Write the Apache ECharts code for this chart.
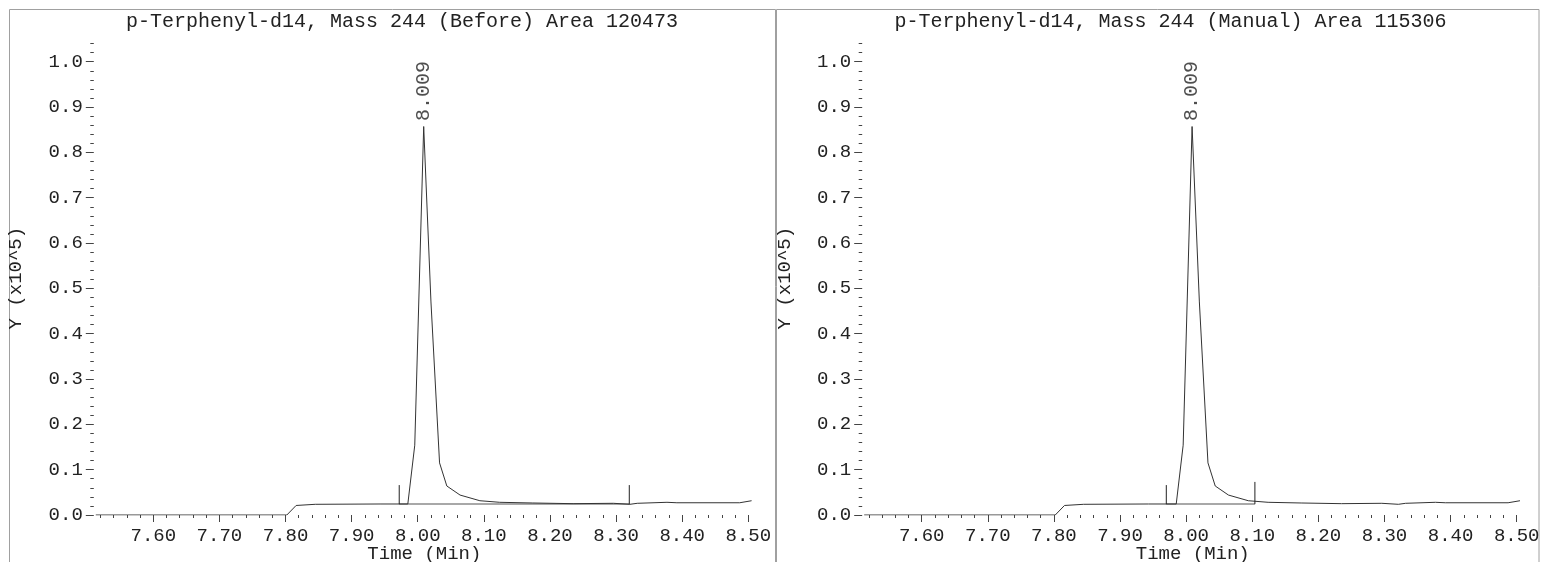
<!DOCTYPE html>
<html>
<head>
<meta charset="utf-8">
<script src="https://cdn.jsdelivr.net/npm/echarts@6/dist/echarts.min.js"></script>
<style>
html,body{margin:0;padding:0;background:#fff;}
#chart{width:1543px;height:562px;}
</style>
</head>
<body>
<div id="chart"></div>
<script>
// ---- data ----
const panelTitles = [
  'p-Terphenyl-d14, Mass 244 (Before) Area 120473',
  'p-Terphenyl-d14, Mass 244 (Manual) Area 115306'
];
const scanTimes = [7.513, 7.802, 7.816, 7.845, 7.943, 7.985, 7.9955, 8.009, 8.020, 8.033, 8.044, 8.064, 8.094, 8.124, 8.174, 8.235, 8.296, 8.321, 8.332, 8.377, 8.392, 8.487, 8.505];
const intensity = [0, 0, 0.021, 0.0236, 0.0243, 0.0243, 0.154, 0.857, 0.47, 0.115, 0.064, 0.044, 0.0315, 0.028, 0.0265, 0.025, 0.0258, 0.0236, 0.0258, 0.028, 0.027, 0.027, 0.0315];
const peakLabel = '8.009';
const peakTime = 8.009;
const peakValue = 0.857;
const startTimes = [7.972, 7.970];
const endTimes = [8.320, 8.104];
const baselineLevels = [0.024, 0.024];
const startMarkTops = [0.066, 0.066];
const endMarkTops = [0.066, 0.073];
const xTicks = [7.6, 7.7, 7.8, 7.9, 8.0, 8.1, 8.2, 8.3, 8.4, 8.5];
const yTicks = [0, 0.1, 0.2, 0.3, 0.4, 0.5, 0.6, 0.7, 0.8, 0.9, 1.0];
const xRange = [7.51, 8.51];
const yRange = [0, 1.045];
const xName = 'Time (Min)';
const yName = 'Y (x10^5)';

// ---- styling ----
const FONT = 'Liberation Mono';
const FS = 19;
const FS_TITLE = 20;
const TXT = '#222';
const LINE = '#333';
const panelLeft = [93.8, 862.2];
const plotTop = 41.3, plotWidth = 661.1, plotHeight = 473.7;

const chart = echarts.init(document.getElementById('chart'), null, {renderer: 'canvas'});

const grids = [], xAxes = [], yAxes = [], series = [];
const trace = scanTimes.map((t, i) => [t, intensity[i]]);

for (let p = 0; p < 2; p++) {
  grids.push({left: panelLeft[p], top: plotTop, width: plotWidth, height: plotHeight, containLabel: false, outerBoundsMode: 'none'});
  xAxes.push({
    type: 'value', gridIndex: p, min: xRange[0], max: xRange[1], splitNumber: 10,
    offset: 1.5,
    axisLine: {show: false},
    axisTick: {show: true, customValues: xTicks, length: 7, lineStyle: {color: '#444', width: 1}},
    minorTick: {show: true, splitNumber: 5, length: 3, lineStyle: {color: '#444', width: 1}},
    axisLabel: {customValues: xTicks, formatter: v => v.toFixed(2), margin: 10, color: TXT, fontFamily: FONT, fontSize: FS},
    splitLine: {show: false},
    name: xName, nameLocation: 'middle', nameGap: 28, nameMoveOverlap: false,
    nameTextStyle: {color: TXT, fontFamily: FONT, fontSize: FS}
  });
  yAxes.push({
    type: 'value', gridIndex: p, min: yRange[0], max: yRange[1], splitNumber: 10,
    axisLine: {show: false},
    axisTick: {show: true, customValues: yTicks, length: 8, lineStyle: {color: '#444', width: 1}},
    minorTick: {show: true, splitNumber: 5, length: 3.5, lineStyle: {color: '#444', width: 1}},
    axisLabel: {customValues: yTicks, formatter: v => v.toFixed(1), margin: 11, color: TXT, fontFamily: FONT, fontSize: FS},
    splitLine: {show: false},
    name: yName, nameLocation: 'middle', nameRotate: 90, nameGap: 68, nameMoveOverlap: false,
    nameTextStyle: {color: TXT, fontFamily: FONT, fontSize: FS}
  });
  // integration baseline
  series.push({
    type: 'line', xAxisIndex: p, yAxisIndex: p, symbol: 'none', silent: true,
    lineStyle: {color: '#a8a8a8', width: 2},
    data: [[startTimes[p], baselineLevels[p]], [endTimes[p], baselineLevels[p]]]
  });
  // chromatogram trace
  series.push({
    type: 'line', xAxisIndex: p, yAxisIndex: p, symbol: 'none', silent: true,
    lineStyle: {color: LINE, width: 1},
    data: trace
  });
  // start / end markers
  series.push({
    type: 'line', xAxisIndex: p, yAxisIndex: p, symbol: 'none', silent: true,
    lineStyle: {color: '#222', width: 1},
    data: [[startTimes[p], baselineLevels[p]], [startTimes[p], startMarkTops[p]]]
  });
  series.push({
    type: 'line', xAxisIndex: p, yAxisIndex: p, symbol: 'none', silent: true,
    lineStyle: {color: '#222', width: 1},
    data: [[endTimes[p], baselineLevels[p]], [endTimes[p], endMarkTops[p]]]
  });
  // peak label
  series.push({
    type: 'scatter', xAxisIndex: p, yAxisIndex: p, silent: true,
    symbol: 'circle', symbolSize: 1, itemStyle: {color: 'rgba(0,0,0,0)'},
    label: {
      show: true, formatter: peakLabel, position: 'top', distance: 5,
      rotate: 90, align: 'left', verticalAlign: 'middle',
      color: TXT, fontFamily: FONT, fontSize: FS_TITLE
    },
    data: [[peakTime, peakValue]]
  });
}

const graphics = [
  {type: 'rect', shape: {x: 9.5, y: 9.5, width: 766, height: 600}, style: {fill: 'none', stroke: '#a0a0a0', lineWidth: 1}, silent: true},
  {type: 'rect', shape: {x: 776.5, y: 9.5, width: 762.5, height: 600}, style: {fill: 'none', stroke: '#a0a0a0', lineWidth: 1}, silent: true},
  {type: 'text', x: 402, y: 22, silent: true, style: {text: panelTitles[0], fill: TXT, font: FS_TITLE + 'px "' + FONT + '"', align: 'center', verticalAlign: 'middle', textAlign: 'center', textVerticalAlign: 'middle'}},
  {type: 'text', x: 1170.5, y: 22, silent: true, style: {text: panelTitles[1], fill: TXT, font: FS_TITLE + 'px "' + FONT + '"', align: 'center', verticalAlign: 'middle', textAlign: 'center', textVerticalAlign: 'middle'}}
];

chart.setOption({
  animation: false,
  backgroundColor: '#fff',
  grid: grids,
  xAxis: xAxes,
  yAxis: yAxes,
  series: series,
  graphic: graphics
});
</script>
</body>
</html>
